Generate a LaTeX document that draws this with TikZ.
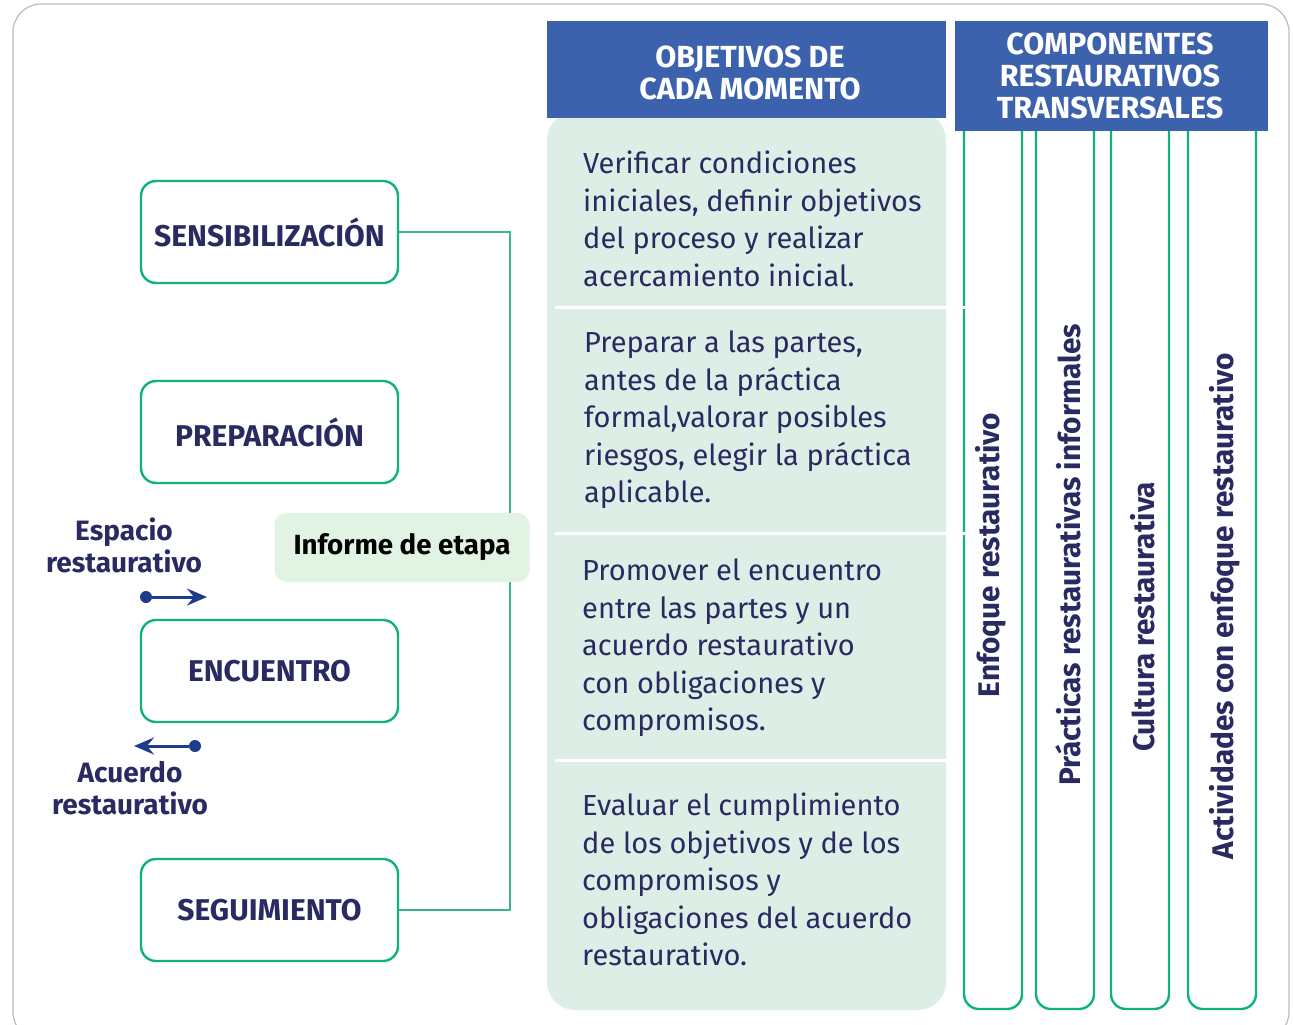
\documentclass[tikz,border=0pt]{standalone}
\usepackage{fontspec}
\setmainfont{Fira Sans}
\usetikzlibrary{arrows.meta,calc}
\definecolor{navy}{HTML}{2A2A62}
\definecolor{hdr}{HTML}{3D62AD}
\definecolor{grn}{HTML}{10B472}
\definecolor{teal}{HTML}{3DB38E}
\definecolor{panel}{HTML}{DDEEE6}
\definecolor{infofill}{HTML}{E1F4E3}
\definecolor{arr}{HTML}{1F3C8C}
\definecolor{frame}{HTML}{BBBBBB}
\tikzset{
  stage/.style={draw=grn,line width=2.4pt,rounded corners=15pt,minimum width=257pt,minimum height=102pt,inner sep=0pt,text=navy,font=\fontsize{30}{33}\selectfont\bfseries},
  headbox/.style={fill=hdr,inner sep=0pt},
  head/.style={inner sep=0pt,text=white,align=center,font=\fontsize{30.5}{32}\selectfont\bfseries},
  body/.style={anchor=north west,align=left,inner sep=0pt,text=navy,font=\fontsize{29}{37.5}\selectfont},
  vlab/.style={rotate=90,text=navy,inner sep=0pt,font=\fontsize{29.8}{33}\selectfont\bfseries},
  side/.style={text=navy,align=center,inner sep=0pt,font=\fontsize{28}{32}\selectfont\bfseries},
  col/.style={draw=grn,line width=2.4pt,rounded corners=15pt},
  dot/.style={circle,fill=arr,inner sep=0pt,minimum size=12pt},
  blarrow/.style={draw=arr,line width=3pt,-{Stealth[length=20pt,width=17pt,inset=7pt]}}
}
\begin{document}
\begin{tikzpicture}[x=1pt,y=-1pt]
\useasboundingbox (0,0) rectangle (1293,1025);
\fill[white] (0,0) rectangle (1293,1025);
% outer frame
\draw[frame,line width=1.2pt,rounded corners=28pt] (13,4) rectangle (1289,1040);
% panel
\fill[panel,rounded corners=28pt] (547,112) rectangle (946,1010);
% separators
\foreach \yy in {307,533,760}{\draw[white,line width=3pt] (555,\yy) -- (968,\yy);}
% headers
\node[headbox,minimum width=399pt,minimum height=97pt] (h1box) at (746,69.5) {};
\node[head] (h1) at (750,73) {OBJETIVOS DE\\CADA MOMENTO};
\node[headbox,minimum width=313pt,minimum height=110pt] (h2box) at (1111.5,76) {};
\node[head] (h2) at (1110,76) {COMPONENTES\\RESTAURATIVOS\\TRANSVERSALES};
% columns
\draw[col] (964,131) -- (964,1009) -- (1022,1009) -- (1022,131);
\draw[col] (1036,131) -- (1036,1009) -- (1094,1009) -- (1094,131);
\draw[col] (1111,131) -- (1111,1009) -- (1169,1009) -- (1169,131);
\draw[col] (1188,131) -- (1188,1009) -- (1256,1009) -- (1256,131);
\foreach \yy in {307,533}{\draw[white,line width=3pt] (955,\yy) -- (968,\yy);}
\node[vlab] (v1) at (991,555) {Enfoque restaurativo};
\node[vlab] (v2) at (1068,555) {Prácticas restaurativas informales};
\node[vlab] (v3) at (1143,617) {Cultura restaurativa};
\node[vlab] (v4) at (1225,606) {Actividades con enfoque restaurativo};
% body texts
\node[body] (t1) at (583,151) {Verificar condiciones\\iniciales, definir objetivos\\del proceso y realizar\\acercamiento inicial.};
\node[body] (t2) at (584,331) {Preparar a las partes,\\antes de la práctica\\formal,valorar posibles\\riesgos, elegir la práctica\\aplicable.};
\node[body] (t3) at (582,559) {Promover el encuentro\\entre las partes y un\\acuerdo restaurativo\\con obligaciones y\\compromisos.};
\node[body] (t4) at (582,793) {Evaluar el cumplimiento\\de los objetivos y de los\\compromisos y\\obligaciones del acuerdo\\restaurativo.};
% stage boxes
\node[stage] (sens) at (269.5,232) {SENSIBILIZACIÓN};
\node[stage] (prep) at (269.5,432) {PREPARACIÓN};
\node[stage] (enc) at (269.5,671) {ENCUENTRO};
\node[stage] (seg) at (269.5,910) {SEGUIMIENTO};
% connector
\coordinate (cn) at (510,232);
\draw[teal,line width=2pt] (sens.east) -- (cn) |- (seg.east);
% informe
\node[fill=infofill,rounded corners=12pt,minimum width=255pt,minimum height=69pt,inner sep=0pt,font=\fontsize{27.7}{30}\selectfont\bfseries] (inf) at (402,547.5) {Informe de etapa};
% side labels
\node[side] (esp) at (124,545) {Espacio\\restaurativo};
\node[dot] (d1) at (146,597) {};
\coordinate (a1) at (207,597);
\draw[blarrow] (d1) -- (a1);
\node[dot] (d2) at (195,746) {};
\coordinate (a2) at (134,746);
\draw[blarrow] (d2) -- (a2);
\node[side] (acu) at (130,788) {Acuerdo\\restaurativo};
\end{tikzpicture}
\end{document}
